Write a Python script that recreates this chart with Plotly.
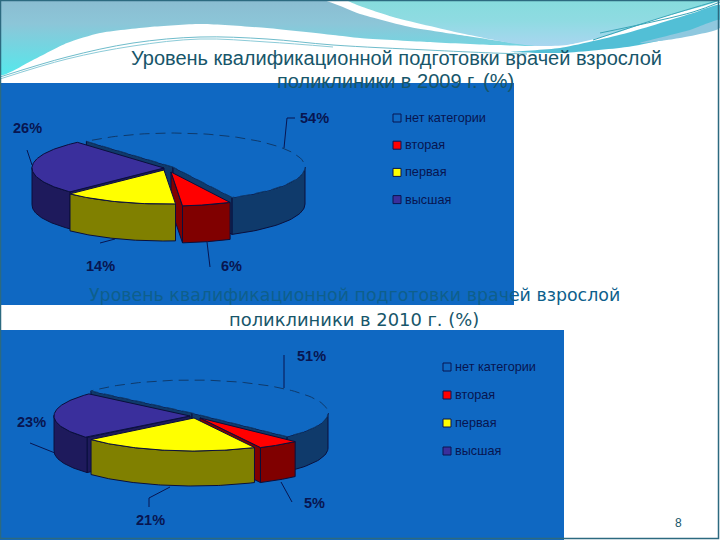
import numpy as np
import plotly.graph_objects as go

# data
categories = ["нет категории", "вторая", "первая", "высшая"]
values_2009 = [54, 6, 14, 26]
values_2010 = [51, 5, 21, 23]
title_2009 = ["Уровень квалификационной подготовки врачей взрослой", "поликлиники в 2009 г. (%)"]
title_2010 = ["Уровень квалификационной подготовки врачей взрослой", "поликлиники в 2010 г. (%)"]

# styles
BLUE = "#0F68C2"
INK = "#081550"
TITLE_INK = "#17566A"
top_colors = [BLUE, "#FF0000", "#FFFF00", "#3A2F9C"]
wall_colors = ["#0F3A6B", "#800000", "#808000", "#1E1A5C"]
swatch_colors = [BLUE, "#FF0000", "#FFFF00", "#3A2F9C"]

fig = go.Figure()


def band(xs, ys, scale):
    fig.add_trace(go.Scatter(x=xs, y=ys, mode="lines", fill="toself", hoverinfo="skip",
                             line=dict(width=0, shape="spline", smoothing=0.6),
                             fillgradient=dict(type="vertical", colorscale=scale)))


def thin(xs, ys, color, width=1):
    fig.add_trace(go.Scatter(x=xs, y=ys, mode="lines", hoverinfo="skip",
                             line=dict(color=color, width=width, shape="spline")))


# header waves (y axis runs downwards, so the scales go bottom to top)
band([0, 322, 360, 410, 460, 507, 540, 493, 427, 360, 333, 267, 200, 150, 100, 67, 33, 0, 0],
     [0, 0, 14, 27, 35, 42, 46, 45, 42, 38, 35, 28, 24, 27, 33, 43, 60, 75, 0],
     [[0, "#55E8EC"], [0.6, "#8CC6D8"], [1, "#8AB8CE"]])
band([347, 720, 660, 610, 567, 537, 510, 460, 393, 360, 347],
     [0, 0, 18, 35, 45, 46, 43, 33, 17, 6, 0],
     [[0, "#A9D6F0"], [0.5, "#8FDBE2"], [1, "#84DCDC"]])
band([510, 560, 627, 693, 720, 720, 677, 627, 560, 510],
     [52, 48, 33, 13, 5, 23, 37, 47, 53, 52],
     [[0, "#52BFD6"], [1, "#52BFD6"]])
band([640, 690, 720, 720, 680, 640],
     [43, 30, 20, 28, 38, 43],
     [[0, "#8FC8DF"], [1, "#8FC8DF"]])
thin([0, 67, 133, 200, 267, 333, 427, 493, 527], [77, 57, 43, 37, 39, 45, 50, 53, 54], "#6FBCCB")
thin([0, 67, 133, 200, 267, 333], [79, 59, 46, 39, 42, 47], "#8CCBD8")
thin([593, 660, 720], [40, 18, 0], "#3AA6B8")
thin([600, 693, 720], [33, 12, 2], "#3AA6B8")


def point(cx, cy, a, b, t):
    r = np.radians(t)
    return cx + a * np.cos(r), cy + b * np.sin(r)


def add_poly(xs, ys, fill, line_color="#0A0F3C", width=1, dash=None):
    fig.add_trace(go.Scatter(x=xs, y=ys, mode="lines", fill="toself", fillcolor=fill, hoverinfo="skip",
                             line=dict(color=line_color, width=width, dash=dash)))


def draw_pie(values, start, cx, cy, a, b, depth, offsets):
    edges = start + np.cumsum([0] + values) * 3.6
    # back slice first, yellow goes in front of the red cut face
    for i in [0, 3, 1, 2]:
        t0, t1 = edges[i], edges[i + 1]
        ox, oy = offsets[i]
        px, py = cx + ox, cy + oy
        ts = np.linspace(t0, t1, 90)
        ex, ey = point(px, py, a, b, ts)
        # cut faces, only those turned to the viewer
        for t, seen in ((t0, np.cos(np.radians(t0)) < 0), (t1, np.cos(np.radians(t1)) > 0)):
            if seen:
                qx, qy = point(px, py, a, b, t)
                add_poly([px, qx, qx, px, px], [py, qy, qy + depth, py + depth, py], wall_colors[i])
        # outer wall, only the part that faces the viewer
        vis = ts[np.sin(np.radians(ts)) >= -0.02]
        if len(vis):
            wx, wy = point(px, py, a, b, vis)
            add_poly(list(wx) + list(wx[::-1]) + [wx[0]], list(wy) + list(wy[::-1] + depth) + [wy[0]], wall_colors[i])
        # top
        if i == 0:
            add_poly([px] + list(ex) + [px], [py] + list(ey) + [py], top_colors[i], "#0F3A6B", 1, "10px,6px")
        else:
            add_poly([px] + list(ex) + [px], [py] + list(ey) + [py], top_colors[i])


fig.update_layout(
    width=720, height=540, margin=dict(l=0, r=0, t=0, b=0), showlegend=False,
    paper_bgcolor="#FFFFFF", plot_bgcolor="#FFFFFF",
    xaxis=dict(range=[0, 720], visible=False, fixedrange=True),
    yaxis=dict(range=[540, 0], visible=False, fixedrange=True),
)

# panels and frame
fig.add_shape(type="rect", x0=0, x1=514, y0=83, y1=305, fillcolor=BLUE, line_width=0, layer="below")
fig.add_shape(type="rect", x0=0, x1=564, y0=330, y1=540, fillcolor=BLUE, line_width=0, layer="below")
fig.add_shape(type="rect", x0=0.5, x1=718.5, y0=0.5, y1=538.5, line=dict(color="#2C6A80", width=1.5), layer="above")

draw_pie(values_2009, 229, 173, 167, 132, 34, 37, [(0, 0), (-2, 5), (-9, 3), (-9, 1)])
draw_pie(values_2010, 222, 192, 413, 136, 33, 35, [(0, 0), (8, 5), (2, 5), (-2, 3)])


def leader(xs, ys):
    fig.add_trace(go.Scatter(x=xs, y=ys, mode="lines", hoverinfo="skip", line=dict(color=INK, width=1)))


leader([295, 287, 284], [118, 118, 148])
leader([27, 32], [150, 165])
leader([100, 115], [243, 239])
leader([207, 210], [242, 267])
leader([284, 284], [355, 388])
leader([30, 55], [443, 453])
leader([149, 149, 170], [507, 498, 487])
leader([281, 292], [482, 502])


def add_text(x, y, text, size, color=INK, family="Liberation Sans", bold=False, anchor="center"):
    fig.add_annotation(x=x, y=y, text=f"<b>{text}</b>" if bold else text, showarrow=False, xanchor=anchor,
                       yanchor="middle", font=dict(size=size, color=color, family=family))


def add_legend(x, y0, step):
    for i, name in enumerate(categories):
        y = y0 + i * step
        fig.add_trace(go.Scatter(x=[x], y=[y], mode="markers", hoverinfo="skip",
                                 marker=dict(symbol="square", size=8, color=swatch_colors[i], line=dict(color=INK, width=1))))
        add_text(x + 6, y, name, 12.7, anchor="left")


add_legend(397, 118, 27.2)
add_legend(447, 367, 28)

for x, y, v in zip([314, 231, 100, 27], [118, 266, 266, 128], values_2009):
    add_text(x, y, f"{v}%", 14.5, bold=True)
for x, y, v in zip([311, 314, 150, 31], [356, 503, 520, 422], values_2010):
    add_text(x, y, f"{v}%", 14.5, bold=True)

add_text(396, 58, title_2009[0], 20, TITLE_INK)
add_text(395, 81, title_2009[1], 20, TITLE_INK)
add_text(354, 295, title_2010[0], 17.4, "#0E5F8C", "DejaVu Sans")
add_text(354, 319, title_2010[1], 17.9, TITLE_INK, "DejaVu Sans")
add_text(678, 523, "8", 12, TITLE_INK)

fig.write_html("out.html", config=dict(displayModeBar=False), post_script="document.body.style.margin='0';")
